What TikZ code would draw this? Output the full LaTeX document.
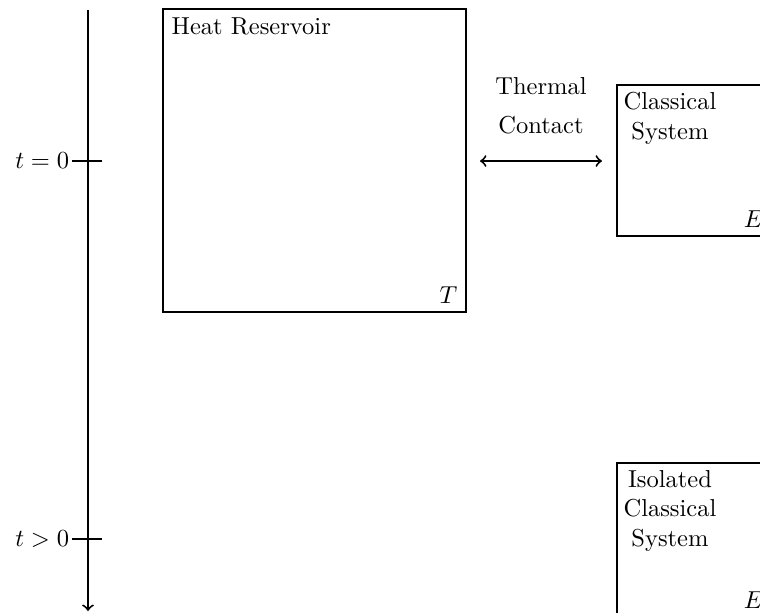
\documentclass[tikz,border=0pt]{standalone}
\begin{document}
\begin{tikzpicture}[x=0.408pt,y=-0.408pt,
  frame/.style={draw, line width=0.8pt},
  axisline/.style={line width=0.8pt},
  multi/.style={align=center, inner sep=0pt}]
\useasboundingbox (0,0) rectangle (760,612);
\clip (0,0) rectangle (760,612);
% time axis
\coordinate (axtop) at (88,10);
\coordinate (axbot) at (88,611);
\draw[axisline,->] (axtop) -- (axbot);
\coordinate (t0L) at (72,161);
\coordinate (t0R) at (102,161);
\coordinate (t1L) at (72,539);
\coordinate (t1R) at (102,539);
\draw[axisline] (t0L) -- (t0R);
\draw[axisline] (t1L) -- (t1R);
\node[anchor=east, inner sep=1pt] (t0lab) at (t0L) {$t=0$};
\node[anchor=east, inner sep=1pt] (t1lab) at (t1L) {$t>0$};
% heat reservoir
\coordinate (hrNW) at (163,9);
\coordinate (hrSE) at (466,312);
\draw[frame] (hrNW) rectangle (hrSE);
\node[anchor=north west] (hrlab) at (hrNW) {Heat Reservoir};
\node[anchor=south east] (hrT) at (hrSE) {$T$};
% thermal contact
\node[multi, anchor=north] (contact) at (541,77) {Thermal\\[4pt]Contact};
\coordinate (arL) at (480,161);
\coordinate (arR) at (602,161);
\draw[axisline,<->] (arL) -- (arR);
% classical system
\coordinate (csNW) at (617,85);
\coordinate (csSE) at (772,236);
\draw[frame] (csNW) rectangle (csSE);
\node[multi, anchor=north] (cslab) at (670,92) {Classical\\System};
\node[anchor=south east] (csE) at (csSE) {$E$};
% isolated classical system
\coordinate (isNW) at (617,463);
\coordinate (isSE) at (772,617);
\draw[frame] (isNW) rectangle (isSE);
\node[multi, anchor=north] (islab) at (670,470) {Isolated\\Classical\\System};
\node[anchor=south east] (isE) at (isSE) {$E$};
\end{tikzpicture}
\end{document}
